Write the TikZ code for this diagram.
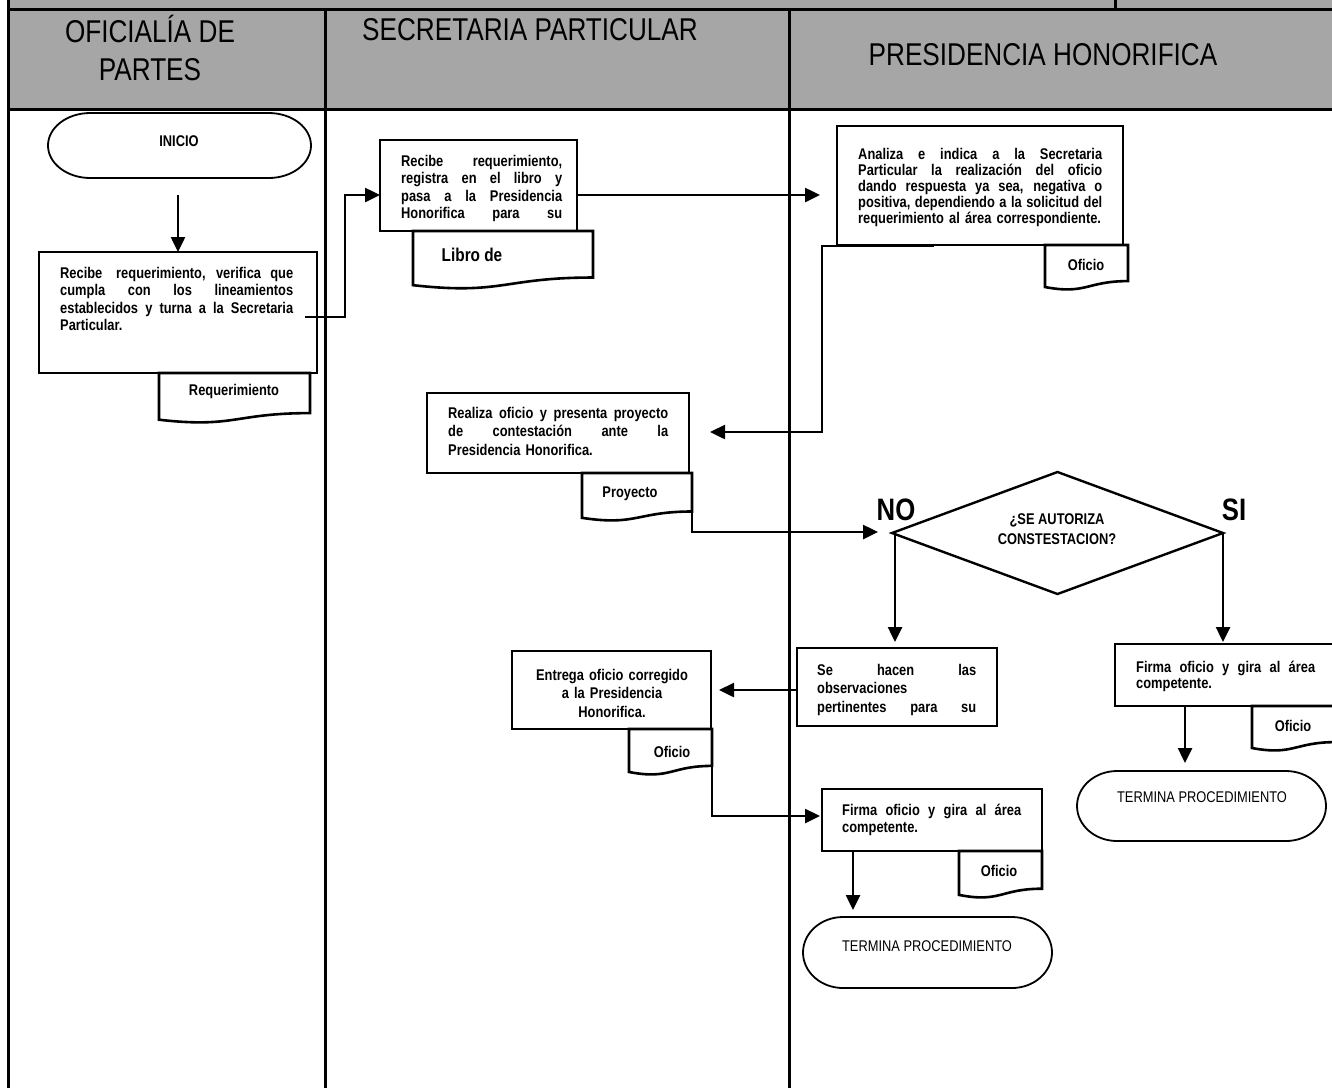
\documentclass[tikz,border=0pt]{standalone}
\usepackage{fontspec}
\setmainfont{Liberation Sans}[FakeStretch=0.83]
\usetikzlibrary{arrows.meta,shapes.geometric,calc}
\definecolor{hdrgray}{RGB}{166,166,166}

% a line of a justified paragraph, spread to the width \jw
\newcommand\jw{200pt}
\newcommand\jl[1]{\leavevmode\hbox to \jw{\spaceskip=0.28em plus 1fil\relax\xspaceskip=\spaceskip #1}}

\tikzset{
  lane/.style={line width=3pt},
  procbox/.style={draw, line width=2pt, fill=white, rectangle, inner sep=0pt, outer sep=0pt, anchor=north west},
  txt/.style={font=\bfseries\fontsize{15.5}{17.5}\selectfont, inner sep=0pt, anchor=base west, align=left},
  txtc/.style={font=\bfseries\fontsize{15.5}{18.5}\selectfont, inner sep=0pt, anchor=base, align=center},
  doctxt/.style={font=\bfseries\fontsize{15.5}{17}\selectfont, inner sep=0pt},
  termtxt/.style={font=\fontsize{15.5}{17}\selectfont, inner sep=0pt},
  docline/.style={draw, line width=2.6pt, fill=white, line join=miter},
  termline/.style={draw, line width=1.8pt, fill=white},
  arr/.style={line width=2.5pt, -{Triangle[length=15pt,width=14pt]}},
  hdr/.style={font=\fontsize{31.5}{38}\selectfont, inner sep=0pt, anchor=base, align=center},
  lbl/.style={font=\bfseries\fontsize{31}{34}\selectfont, inner sep=0pt, anchor=base},
}

% process box: name, x1, y1, x2, y2
\newcommand\procnode[5]{%
  \pgfmathsetmacro\pbW{#4-#2}%
  \pgfmathsetmacro\pbH{#5-#3}%
  \node[procbox, minimum width=\pbW pt, minimum height=\pbH pt] (#1) at (#2,#3) {};%
}

% document symbol: name, x, y, width, height, text x, text y, text
\newcommand\docnode[8]{%
  \pgfmathsetmacro\dcXr{#2+#4}%
  \pgfmathsetmacro\dcYr{#3+0.802*#5}%
  \pgfmathsetmacro\dcXm{#2+0.5*#4}%
  \pgfmathsetmacro\dcYb{#3+1.107*#5}%
  \pgfmathsetmacro\dcYl{#3+0.934*#5}%
  \pgfmathsetmacro\dcH{0.802*#5}%
  \path[docline] (#2,#3) -- (\dcXr,#3) -- (\dcXr,\dcYr)
     .. controls (\dcXm,\dcYr) and (\dcXm,\dcYb) .. (#2,\dcYl) -- cycle;
  \node[inner sep=0pt, outer sep=0pt, minimum width=#4 pt, minimum height=\dcH pt, anchor=north west] (#1) at (#2,#3) {};
  \node[doctxt] (#1-t) at (#6,#7) {#8};
}

% terminator: name, x1, y1, x2, y2
\newcommand\termnode[5]{%
  \pgfmathsetmacro\tmRx{0.161*(#4-#2)}%
  \pgfmathsetmacro\tmRy{(#5-#3)/2}%
  \pgfmathsetmacro\tmYm{(#3+#5)/2}%
  \pgfmathsetmacro\tmXa{#2+\tmRx}%
  \pgfmathsetmacro\tmXb{#4-\tmRx}%
  \pgfmathsetmacro\tmKl{#2+\tmRx*0.4477}%
  \pgfmathsetmacro\tmKr{#4-\tmRx*0.4477}%
  \pgfmathsetmacro\tmKt{\tmYm-\tmRy*0.5523}%
  \pgfmathsetmacro\tmKb{\tmYm+\tmRy*0.5523}%
  \path[termline] (\tmXa,#3) -- (\tmXb,#3)
     .. controls (\tmKr,#3) and (#4,\tmKt) .. (#4,\tmYm)
     .. controls (#4,\tmKb) and (\tmKr,#5) .. (\tmXb,#5) -- (\tmXa,#5)
     .. controls (\tmKl,#5) and (#2,\tmKb) .. (#2,\tmYm)
     .. controls (#2,\tmKt) and (\tmKl,#3) .. cycle;
  \pgfmathsetmacro\pbW{#4-#2}%
  \pgfmathsetmacro\pbH{#5-#3}%
  \node[inner sep=0pt, outer sep=0pt, minimum width=\pbW pt, minimum height=\pbH pt, anchor=north west] (#1) at (#2,#3) {};
}

\begin{document}
\begin{tikzpicture}[x=1pt,y=-1pt]
\useasboundingbox (0,0) rectangle (1332,1088);
\clip (0,0) rectangle (1332,1088);

% header band and swimlanes
\fill[hdrgray] (8,0) rectangle (1332,109);
\draw[lane] (8,0) -- (8,1088);
\draw[lane] (325,9) -- (325,1088);
\draw[lane] (789,9) -- (789,1088);
\draw[lane] (1115,0) -- (1115,9);
\draw[lane] (8,9) -- (1332,9);
\draw[lane] (8,109) -- (1332,109);

\node[hdr] (h1) at (150,80) {OFICIALÍA DE\\PARTES};
\node[hdr] (h2) at (530,40) {SECRETARIA PARTICULAR};
\node[hdr] (h3) at (1043,65) {PRESIDENCIA HONORIFICA};

% Oficialía de Partes
\termnode{inicio}{48}{113}{311}{178}
\node[doctxt] (inicio-t) at (179,141) {INICIO};

\procnode{b1}{39}{252}{317}{373}
\renewcommand\jw{233pt}
\node[txt, text width=233pt] (b1-t) at (60,278)
  {\jl{Recibe\hspace{0.3em} requerimiento, verifica que}\\
   \jl{cumpla con los lineamientos}\\
   \jl{establecidos y turna a la Secretaria}\\
   Particular.};
\docnode{d1}{159}{373}{151}{50}{234}{391}{Requerimiento}

% Secretaría Particular
\procnode{b2}{380}{140}{577}{231}
\renewcommand\jw{161pt}
\node[txt, text width=161pt] (b2-t) at (401,166)
  {\jl{Recibe requerimiento,}\\
   \jl{registra en el libro y}\\
   \jl{pasa a la Presidencia}\\
   \jl{Honorifica para su}};
\docnode{d2}{413}{231}{180}{58}{472}{255}{\fontsize{18.5}{20}\selectfont Libro de}

\procnode{b4}{427}{393}{689}{473}
\renewcommand\jw{220pt}
\node[txt, text width=220pt, font=\bfseries\fontsize{15.5}{18.5}\selectfont] (b4-t) at (448,418)
  {\jl{Realiza oficio y presenta proyecto}\\
   \jl{de contestación ante la}\\
   Presidencia Honorifica.};
\docnode{d4}{582}{473}{110}{48}{630}{494}{Proyecto}

\procnode{b6}{512}{651}{711}{729}
\node[txtc, text width=190pt] (b6-t) at (612,680)
  {Entrega oficio corregido\\a la Presidencia\\Honorifica.};
\docnode{d6}{629}{729}{83}{46}{672}{752}{Oficio}

% Presidencia Honorífica
\procnode{b3}{837}{126}{1123}{245}
\renewcommand\jw{244pt}
\node[txt, text width=244pt, font=\bfseries\fontsize{15.5}{16}\selectfont] (b3-t) at (858,159)
  {\jl{Analiza e indica a la Secretaria}\\
   \jl{Particular la realización del oficio}\\
   \jl{dando respuesta ya sea, negativa o}\\
   \jl{positiva, dependiendo a la solicitud del}\\
   requerimiento al área correspondiente.};
\docnode{d3}{1045}{245}{83}{45}{1086}{265}{Oficio}

\node[diamond, draw, line width=2.4pt, fill=white, minimum width=331pt, minimum height=122pt,
      inner sep=0pt, outer sep=0pt] (dia) at (1057.5,533) {};
\node[doctxt, align=center, font=\bfseries\fontsize{15.5}{20.5}\selectfont] (dia-t) at (1057,529) {¿SE AUTORIZA\\CONSTESTACION?};
\node[lbl] (no) at (896,520) {NO};
\node[lbl] (si) at (1234,520) {SI};

\procnode{b5}{797}{648}{997}{726}
\renewcommand\jw{159pt}
\node[txt, text width=159pt, font=\bfseries\fontsize{15.5}{18.5}\selectfont] (b5-t) at (817,675)
  {\jl{Se hacen las}\\
   observaciones\\
   \jl{pertinentes para su}};

\procnode{b7}{822}{789}{1042}{851}
\renewcommand\jw{179pt}
\node[txt, text width=179pt] (b7-t) at (842,815)
  {\jl{Firma oficio y gira al área}\\competente.};
\docnode{d7}{959}{851}{83}{47}{999}{871}{Oficio}
\termnode{t7}{803}{917}{1052}{988}
\node[termtxt] (t7-t) at (927,946) {TERMINA PROCEDIMIENTO};

\procnode{b8}{1115}{644}{1335}{706}
\node[txt, text width=179pt, font=\bfseries\fontsize{15.5}{16.5}\selectfont] (b8-t) at (1136,672)
  {\jl{Firma oficio y gira al área}\\competente.};
\docnode{d8}{1252}{706}{84}{45}{1293}{726}{Oficio}
\termnode{t8}{1077}{771}{1326}{841}
\node[termtxt] (t8-t) at (1202,797) {TERMINA PROCEDIMIENTO};

% connectors
\coordinate (a1) at (178,195);
\draw[arr] (a1) -- (a1 |- b1.north);

\coordinate (c2s) at (305,317);
\coordinate (c2m) at (345,195);
\draw[arr] (c2s) -| (c2m) -- (c2m -| b2.west);

\coordinate (c3e) at (820,195);
\draw[arr] (c2m -| b2.east) -- (c3e);

\coordinate (c4s) at (934,246);
\coordinate (c4k) at (822,246);
\coordinate (c4e) at (710,432);
\draw[arr] (c4s) -- (c4k) |- (c4e);

\coordinate (c5e) at (878,532);
\draw[arr] (d4.south east) |- (c5e);

\coordinate (c6s) at (895,533);
\coordinate (c6e) at (895,642);
\draw[arr] (c6s) -- (c6e);

\coordinate (c7e) at (1223,642);
\draw[arr] (dia.east) -- (c7e);

\coordinate (c8e) at (719,690);
\draw[arr] (c8e -| b5.west) -- (c8e);

\coordinate (c9e) at (820,816);
\draw[arr] (d6.south east) |- (c9e);

\coordinate (c10s) at (853,851);
\coordinate (c10e) at (853,910);
\draw[arr] (c10s) -- (c10e);

\coordinate (c11s) at (1185,706);
\coordinate (c11e) at (1185,763);
\draw[arr] (c11s) -- (c11e);
\end{tikzpicture}
\end{document}
